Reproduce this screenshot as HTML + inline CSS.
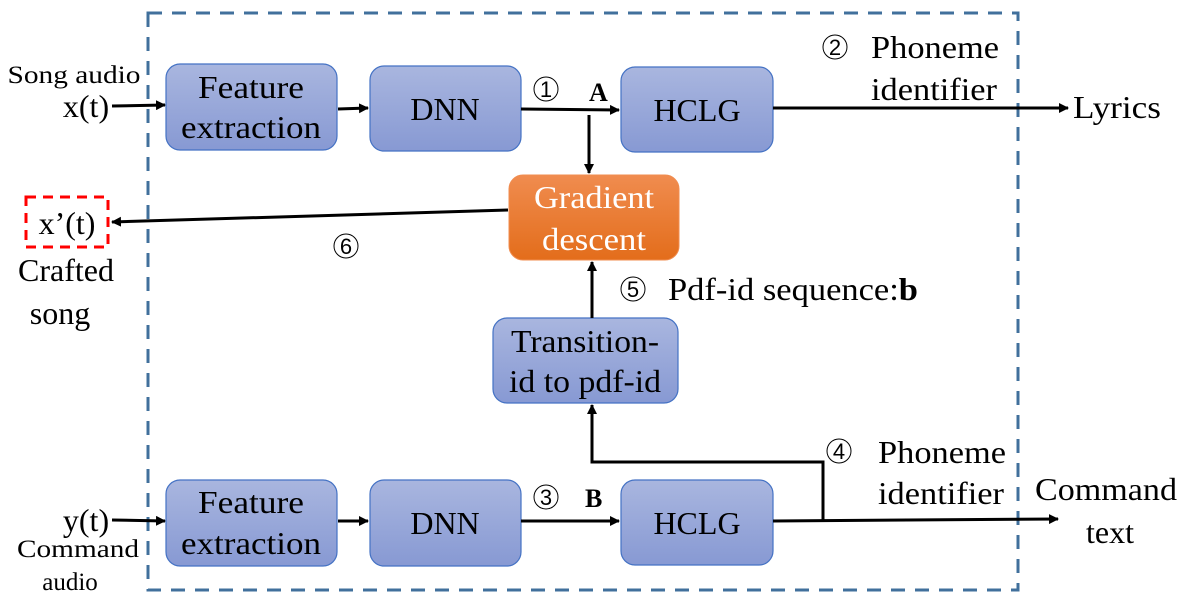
<!DOCTYPE html>
<html><head><meta charset="utf-8"><style>
body{margin:0;background:#fff}
</style></head><body>
<svg width="1182" height="605" viewBox="0 0 1182 605" xmlns="http://www.w3.org/2000/svg" font-family="'Liberation Serif', serif">
<defs>
<linearGradient id="b" x1="0" y1="0" x2="0" y2="1"><stop offset="0" stop-color="#a9b6df"/><stop offset="1" stop-color="#8799d3"/></linearGradient>
<linearGradient id="o" x1="0" y1="0" x2="0" y2="1"><stop offset="0" stop-color="#f08c4f"/><stop offset="1" stop-color="#e36d1b"/></linearGradient>
<marker id="a" markerWidth="10" markerHeight="10" refX="9" refY="5" orient="auto" markerUnits="userSpaceOnUse"><path d="M0,0 L10,5 L0,10 z" fill="#000"/></marker>
</defs>
<rect x="148" y="13" width="870" height="577" fill="none" stroke="#41709c" stroke-width="3" stroke-dasharray="14,10"/>
<g stroke="#4472c4" stroke-width="1.2" fill="url(#b)">
<rect x="166" y="64" width="171" height="86" rx="14"/>
<rect x="370" y="66" width="151" height="85" rx="14"/>
<rect x="621" y="67" width="152" height="85" rx="14"/>
<rect x="493" y="318" width="185" height="85" rx="14"/>
<rect x="166" y="480" width="171" height="86" rx="14"/>
<rect x="370" y="480" width="151" height="86" rx="14"/>
<rect x="621" y="480" width="152" height="85" rx="14"/>
</g>
<rect x="509" y="175" width="170" height="85" rx="14" fill="url(#o)" stroke="#f08c4f"/>
<rect x="26" y="197" width="82" height="50" fill="none" stroke="#f00" stroke-width="3" stroke-dasharray="10,7"/>
<g stroke="#000" stroke-width="3" fill="none" marker-end="url(#a)">
<line x1="112" y1="106" x2="165" y2="105"/>
<line x1="338" y1="109" x2="368" y2="108"/>
<line x1="521" y1="109" x2="619" y2="110"/>
<line x1="589" y1="115" x2="589" y2="173"/>
<line x1="773" y1="108" x2="1068" y2="108"/>
<line x1="508" y1="210" x2="112" y2="222"/>
<line x1="592" y1="318" x2="592" y2="262"/>
<line x1="112" y1="520" x2="165" y2="521"/>
<line x1="338" y1="521" x2="368" y2="521"/>
<line x1="521" y1="521" x2="619" y2="521"/>
<line x1="773" y1="521" x2="1058" y2="519"/>
<polyline points="823,520 823,462 592,462 592,405"/>
</g>
<g font-size="32" text-anchor="middle" lengthAdjust="spacingAndGlyphs">
<text x="251" y="98" textLength="106" lengthAdjust="spacingAndGlyphs">Feature</text><text x="251" y="138" textLength="140" lengthAdjust="spacingAndGlyphs">extraction</text>
<text x="445" y="120">DNN</text>
<text x="697" y="121">HCLG</text>
<text x="585" y="352" textLength="148" lengthAdjust="spacingAndGlyphs">Transition-</text><text x="585" y="392" textLength="152" lengthAdjust="spacingAndGlyphs">id to pdf-id</text>
<text x="251" y="513" textLength="106" lengthAdjust="spacingAndGlyphs">Feature</text><text x="251" y="554" textLength="140" lengthAdjust="spacingAndGlyphs">extraction</text>
<text x="445" y="534">DNN</text>
<text x="697" y="534">HCLG</text>
<text x="594" y="208" fill="#fff" textLength="120" lengthAdjust="spacingAndGlyphs">Gradient</text><text x="594" y="250" fill="#fff" textLength="104" lengthAdjust="spacingAndGlyphs">descent</text>
<text x="67" y="234">x’(t)</text>
<text x="66" y="281" textLength="96" lengthAdjust="spacingAndGlyphs">Crafted</text><text x="60" y="324">song</text>
<text x="86" y="117">x(t)</text>
<text x="86" y="531">y(t)</text>
<text x="1106" y="500" textLength="142" lengthAdjust="spacingAndGlyphs">Command</text><text x="1110" y="543">text</text>
</g>
<g font-size="25" text-anchor="middle">
<text x="74" y="83" textLength="133" lengthAdjust="spacingAndGlyphs">Song audio</text>
<text x="78" y="557" textLength="122" lengthAdjust="spacingAndGlyphs">Command</text><text x="70" y="590">audio</text>
</g>
<g font-size="32">
<text x="1073" y="118" textLength="88" lengthAdjust="spacingAndGlyphs">Lyrics</text>
<text x="871" y="58" textLength="128" lengthAdjust="spacingAndGlyphs">Phoneme</text><text x="871" y="100" textLength="126" lengthAdjust="spacingAndGlyphs">identifier</text>
<text x="878" y="463" textLength="128" lengthAdjust="spacingAndGlyphs">Phoneme</text><text x="878" y="504" textLength="126" lengthAdjust="spacingAndGlyphs">identifier</text>
<text x="668" y="300" textLength="250" lengthAdjust="spacingAndGlyphs">Pdf-id sequence:<tspan font-weight="bold">b</tspan></text>
<text x="589" y="101" font-weight="bold" font-size="26">A</text>
<text x="585" y="507" font-weight="bold" font-size="26">B</text>
</g>
<g fill="none" stroke="#000" stroke-width="1">
<circle cx="546" cy="89" r="12"/><circle cx="835" cy="47" r="12"/><circle cx="546" cy="497" r="12"/>
<circle cx="839" cy="451" r="12"/><circle cx="633" cy="289" r="12"/><circle cx="346" cy="246" r="12"/>
</g>
<g font-size="22" text-anchor="middle" font-family="'Liberation Sans', sans-serif">
<text x="546" y="97">1</text><text x="835" y="55">2</text><text x="546" y="505">3</text>
<text x="839" y="459">4</text><text x="633" y="297">5</text><text x="346" y="254">6</text>
</g>
</svg>
</body></html>
